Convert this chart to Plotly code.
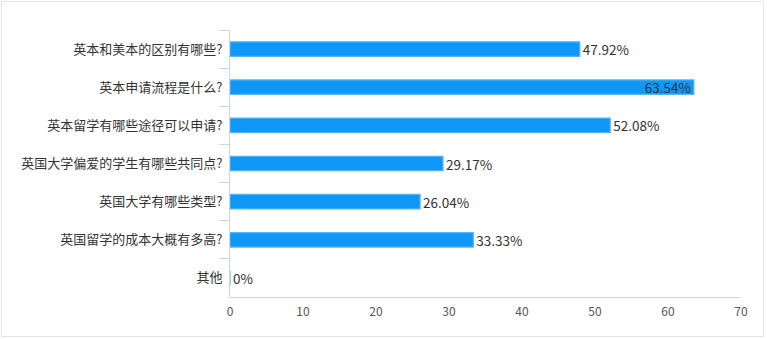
import plotly.graph_objects as go

# Survey question options and share of respondents (%)
categories = [
    "英本和美本的区别有哪些?",
    "英本申请流程是什么?",
    "英本留学有哪些途径可以申请?",
    "英国大学偏爱的学生有哪些共同点?",
    "英国大学有哪些类型?",
    "英国留学的成本大概有多高?",
    "其他",
]
values = [47.92, 63.54, 52.08, 29.17, 26.04, 33.33, 0]
x_ticks = [0, 10, 20, 30, 40, 50, 60, 70]

labels = [f"{v:.2f}%" if v else "0%" for v in values]
longest = max(values)
positions = ["inside" if v == longest else "outside" for v in values]

W, H = 767, 339
L, R, T, B = 230, 26, 30, 42
pw, ph = W - L - R, H - T - B

fig = go.Figure(
    go.Bar(
        x=values,
        y=categories,
        orientation="h",
        marker=dict(color="#0f97f7", line=dict(color="#56b4f7", width=1.2)),
        text=labels,
        textposition=positions,
        insidetextanchor="end",
        constraintext="none",
        textfont=dict(family="Noto Sans CJK SC", size=13.5, color="#333333"),
        cliponaxis=False,
        hoverinfo="skip",
    )
)

fig.update_layout(
    width=W,
    height=H,
    margin=dict(l=L, r=R, t=T, b=B),
    paper_bgcolor="white",
    plot_bgcolor="white",
    bargap=0.62,
    showlegend=False,
    font=dict(family="Noto Sans CJK SC", color="#333333"),
)

fig.update_xaxes(
    range=[0, 70],
    tickvals=x_ticks,
    showgrid=False,
    zeroline=False,
    showline=True,
    linecolor="#ccd6eb",
    linewidth=1,
    ticks="",
    tickfont=dict(family="Noto Sans CJK SC", size=12, color="#555555"),
    ticklabelstandoff=4,
)

fig.update_yaxes(
    autorange="reversed",
    showgrid=False,
    showline=True,
    linecolor="#ccd6eb",
    linewidth=1,
    ticks="outside",
    tickson="boundaries",
    ticklen=10,
    tickcolor="#ccd6eb",
    tickfont=dict(family="Noto Sans CJK SC", size=13, color="#333333"),
    ticklabelstandoff=4,
)

# light frame around the whole figure
fig.add_shape(
    type="rect",
    xref="paper",
    yref="paper",
    x0=(1.5 - L) / pw,
    x1=(W - 3.5 - L) / pw,
    y0=(H - B - (H - 2.5)) / ph,
    y1=(H - B - 1.5) / ph,
    line=dict(color="#e3e3e3", width=1),
    fillcolor="rgba(0,0,0,0)",
    layer="below",
)

fig.write_html("out.html")
